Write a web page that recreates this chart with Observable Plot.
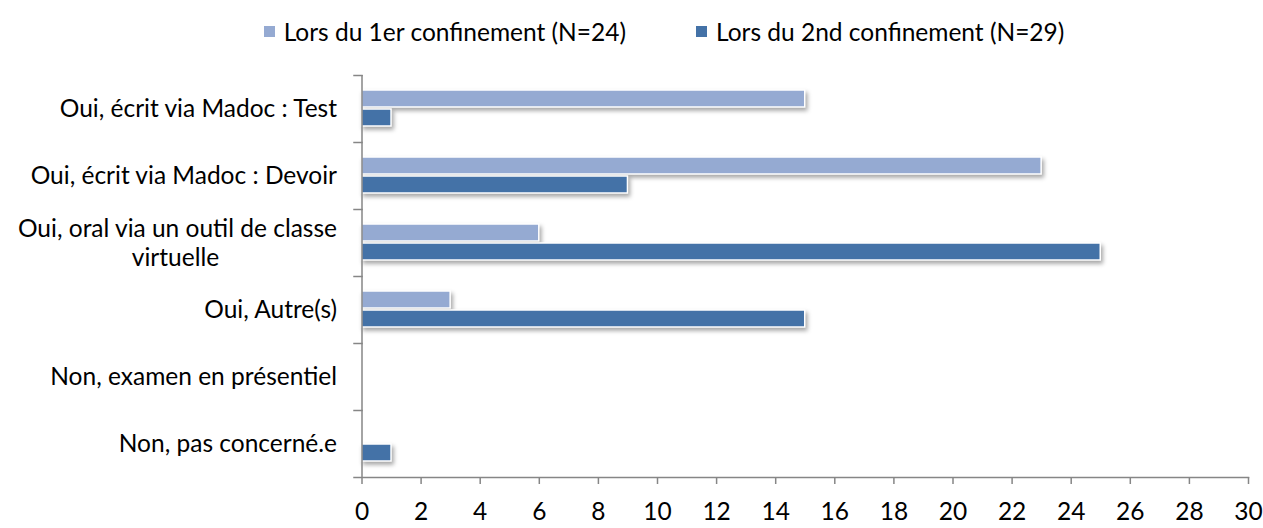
<!DOCTYPE html>
<html>
<head>
<meta charset="utf-8">
<script src="https://cdn.jsdelivr.net/npm/d3@7"></script>
<script src="https://cdn.jsdelivr.net/npm/@observablehq/plot@0.6"></script>
<style>
  html, body { margin: 0; padding: 0; background: white; }
  #legend { height: 62px; display: flex; justify-content: center; align-items: center; padding-left: 65px; box-sizing: border-box; font-family: Lato, sans-serif; font-size: 24.5px; color: #000; }
  .item { display: flex; align-items: center; margin: 0 35px; }
  .sw { width: 11px; height: 11px; margin-right: 9px; }
  svg g[aria-label="bar"] rect { filter: drop-shadow(2px 3px 2px rgba(0,0,0,0.35)); }
</style>
</head>
<body>
<div id="legend"></div>
<div id="chart"></div>
<script>
const categories = [
  "Oui, écrit via Madoc : Test",
  "Oui, écrit via Madoc : Devoir",
  "Oui, oral via un outil de classe virtuelle",
  "Oui, Autre(s)",
  "Non, examen en présentiel",
  "Non, pas concerné.e"
];
const labelLines = [
  ["Oui, écrit via Madoc : Test"],
  ["Oui, écrit via Madoc : Devoir"],
  ["Oui, oral via un outil de classe", "virtuelle"],
  ["Oui, Autre(s)"],
  ["Non, examen en présentiel"],
  ["Non, pas concerné.e"]
];
const series = ["Lors du 1er confinement (N=24)", "Lors du 2nd confinement (N=29)"];
const first = [15, 23, 6, 3, 0, 0];
const second = [1, 9, 25, 15, 0, 1];
const xTicks = [0, 2, 4, 6, 8, 10, 12, 14, 16, 18, 20, 22, 24, 26, 28, 30];
const colors = ["#95AAD2", "#4472A7"];

const data = categories.flatMap((c, i) => [
  {category: c, series: series[0], value: first[i]},
  {category: c, series: series[1], value: second[i]}
]);
const labels = categories.map((c, i) => ({category: c, lines: labelLines[i]}));

const W = 1263, H = 466, ML = 361.5, MR = 15;
const plotW = W - ML - MR;
const gray = "#868686";

const chart = Plot.plot({
  width: W, height: H,
  marginLeft: ML, marginRight: MR, marginTop: 13, marginBottom: 50.3,
  x: {domain: [0, 30], axis: null, label: null},
  y: {domain: series, paddingInner: 0.105, paddingOuter: 0.815, axis: null},
  fy: {domain: categories, padding: 0, axis: null},
  color: {domain: series, range: colors},
  style: {fontFamily: "Lato, sans-serif", fontSize: "24.5px", color: "#000", background: "white"},
  marks: [
    Plot.barX(data, {filter: d => d.value > 0, x: "value", y: "series", fy: "category", fill: "series", stroke: "white", strokeWidth: 1.5}),
    Plot.ruleX([0], {stroke: gray, strokeWidth: 1.5}),
    Plot.frame({anchor: "top", stroke: gray, strokeWidth: 1.5, insetLeft: -8, insetRight: plotW}),
    Plot.frame({anchor: "bottom", facetAnchor: "bottom", stroke: gray, strokeWidth: 1.5, insetLeft: -8}),
    Plot.axisX({anchor: "bottom", facetAnchor: "bottom", ticks: xTicks, label: null, tickSize: 7, tickPadding: 18, stroke: gray, strokeWidth: 1.5, fill: "#000", fontSize: 24.5}),
    Plot.text(labels.filter(d => d.lines.length === 1), {fy: "category", text: d => d.lines[0], frameAnchor: "left", textAnchor: "end", dx: -25, fill: "#000"}),
    Plot.text(labels.filter(d => d.lines.length === 2), {fy: "category", text: d => d.lines[0], frameAnchor: "left", textAnchor: "end", dx: -25, dy: -14, fill: "#000"}),
    Plot.text(labels.filter(d => d.lines.length === 2), {fy: "category", text: d => d.lines[1], frameAnchor: "left", textAnchor: "middle", dx: -186.5, dy: 15, fill: "#000"})
  ]
});
document.getElementById("chart").appendChild(chart);

const legend = document.getElementById("legend");
series.forEach((s, i) => {
  const item = document.createElement("div");
  item.className = "item";
  const sw = document.createElement("span");
  sw.className = "sw";
  sw.style.background = colors[i];
  const t = document.createElement("span");
  t.textContent = s;
  item.appendChild(sw);
  item.appendChild(t);
  legend.appendChild(item);
});
</script>
</body>
</html>
